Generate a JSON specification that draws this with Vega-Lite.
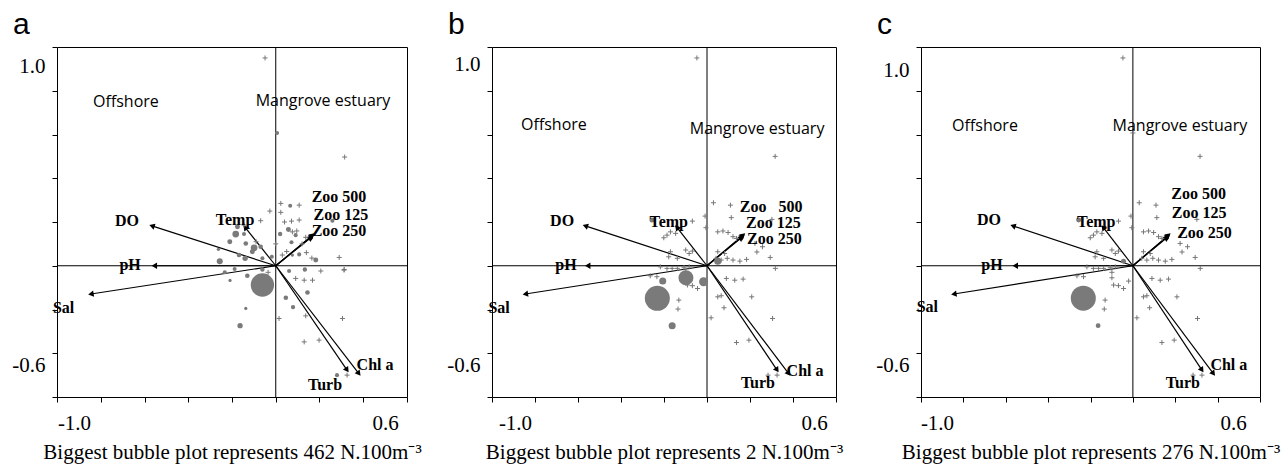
{
  "$schema": "https://vega.github.io/schema/vega-lite/v6.json",
  "background": "white",
  "padding": {"left": 11, "top": 9, "right": 2, "bottom": 2},
  "bounds": "flush",
  "spacing": 85,
  "resolve": {"scale": {"size": "independent"}},
  "datasets": {
    "arrows": [
      {"v": "DO", "x": -0.566, "y": 0.182},
      {"v": "pH", "x": -0.555, "y": 0.0},
      {"v": "Sal", "x": -0.845, "y": -0.129},
      {"v": "Temp", "x": -0.14, "y": 0.175},
      {"v": "Zoo 500", "x": 0.168, "y": 0.14},
      {"v": "Zoo 125", "x": 0.165, "y": 0.135},
      {"v": "Zoo 250", "x": 0.16, "y": 0.128},
      {"v": "Turb", "x": 0.326, "y": -0.477},
      {"v": "Chl a", "x": 0.38, "y": -0.493}
    ],
    "labels": [
      {"p": "a", "k": "var", "t": "DO", "x": -0.68, "y": 0.205},
      {"p": "a", "k": "var", "t": "Temp", "x": -0.186, "y": 0.209},
      {"p": "a", "k": "var", "t": "pH", "x": -0.666, "y": 0.003},
      {"p": "a", "k": "var", "t": "Sal", "x": -0.97, "y": -0.193},
      {"p": "a", "k": "var", "t": "Zoo 500", "x": 0.289, "y": 0.316},
      {"p": "a", "k": "var", "t": "Zoo 125", "x": 0.298, "y": 0.232},
      {"p": "a", "k": "var", "t": "Zoo 250", "x": 0.289, "y": 0.16},
      {"p": "a", "k": "var", "t": "Chl a", "x": 0.454, "y": -0.454},
      {"p": "a", "k": "var", "t": "Turb", "x": 0.225, "y": -0.545},
      {"p": "a", "k": "region", "t": "Offshore", "x": -0.685, "y": 0.749},
      {"p": "a", "k": "region", "t": "Mangrove estuary", "x": 0.216, "y": 0.753},
      {"p": "b", "k": "var", "t": "DO", "x": -0.674, "y": 0.205},
      {"p": "b", "k": "var", "t": "Temp", "x": -0.178, "y": 0.198},
      {"p": "b", "k": "var", "t": "pH", "x": -0.656, "y": 0.003},
      {"p": "b", "k": "var", "t": "Sal", "x": -0.967, "y": -0.193},
      {"p": "b", "k": "var", "t": "Zoo\u00a0\u00a0\u00a0500", "x": 0.298, "y": 0.27},
      {"p": "b", "k": "var", "t": "Zoo 125", "x": 0.309, "y": 0.197},
      {"p": "b", "k": "var", "t": "Zoo 250", "x": 0.313, "y": 0.122},
      {"p": "b", "k": "var", "t": "Chl a", "x": 0.456, "y": -0.481},
      {"p": "b", "k": "var", "t": "Turb", "x": 0.237, "y": -0.536},
      {"p": "b", "k": "region", "t": "Offshore", "x": -0.712, "y": 0.643},
      {"p": "b", "k": "region", "t": "Mangrove estuary", "x": 0.233, "y": 0.625},
      {"p": "c", "k": "var", "t": "DO", "x": -0.679, "y": 0.209},
      {"p": "c", "k": "var", "t": "Temp", "x": -0.173, "y": 0.201},
      {"p": "c", "k": "var", "t": "pH", "x": -0.665, "y": 0.003},
      {"p": "c", "k": "var", "t": "Sal", "x": -0.97, "y": -0.189},
      {"p": "c", "k": "var", "t": "Zoo 500", "x": 0.31, "y": 0.326},
      {"p": "c", "k": "var", "t": "Zoo 125", "x": 0.313, "y": 0.239},
      {"p": "c", "k": "var", "t": "Zoo 250", "x": 0.338, "y": 0.148},
      {"p": "c", "k": "var", "t": "Chl a", "x": 0.453, "y": -0.454},
      {"p": "c", "k": "var", "t": "Turb", "x": 0.236, "y": -0.536},
      {"p": "c", "k": "region", "t": "Offshore", "x": -0.698, "y": 0.639},
      {"p": "c", "k": "region", "t": "Mangrove estuary", "x": 0.222, "y": 0.639}
    ],
    "plus_a": [
      {"x": 0.023, "y": 0.285}, {"x": 0.107, "y": 0.277}, {"x": -0.027, "y": 0.25}, {"x": 0.023, "y": 0.244},
      {"x": 0.107, "y": 0.209}, {"x": 0.072, "y": 0.204}, {"x": -0.069, "y": 0.206}, {"x": 0.076, "y": 0.155},
      {"x": 0.096, "y": 0.159}, {"x": 0.137, "y": 0.13}, {"x": -0.145, "y": 0.186}, {"x": 0.29, "y": 0.038},
      {"x": 0.313, "y": -0.017}, {"x": 0.206, "y": -0.024}, {"x": 0.13, "y": -0.066}, {"x": 0.168, "y": -0.066},
      {"x": 0.091, "y": -0.058}, {"x": 0.015, "y": -0.241}, {"x": 0.305, "y": -0.241}, {"x": 0.13, "y": -0.348},
      {"x": 0.198, "y": -0.34}, {"x": 0.137, "y": -0.229}, {"x": 0.03, "y": 0.049}, {"x": 0.05, "y": 0.065},
      {"x": -0.049, "y": 0.95}, {"x": 0.315, "y": 0.497}, {"x": 0.326, "y": -0.5}, {"x": 0.312, "y": -0.02},
      {"x": -0.09, "y": 0.11}, {"x": 0.0, "y": 0.1}, {"x": 0.12, "y": 0.1}, {"x": 0.165, "y": 0.035},
      {"x": 0.04, "y": 0.2}, {"x": 0.14, "y": 0.06}, {"x": -0.035, "y": -0.03}
    ],
    "plus_bc": [
      {"x": 0.03, "y": 0.288}, {"x": 0.109, "y": 0.277}, {"x": 0.113, "y": 0.22}, {"x": -0.009, "y": 0.227},
      {"x": -0.005, "y": 0.174}, {"x": -0.068, "y": 0.204}, {"x": -0.186, "y": 0.14}, {"x": -0.17, "y": 0.155},
      {"x": -0.146, "y": 0.148}, {"x": -0.201, "y": 0.128}, {"x": 0.05, "y": 0.155}, {"x": 0.074, "y": 0.159},
      {"x": 0.098, "y": 0.152}, {"x": 0.121, "y": 0.133}, {"x": 0.137, "y": 0.125}, {"x": 0.302, "y": 0.212},
      {"x": 0.223, "y": 0.102}, {"x": 0.258, "y": 0.087}, {"x": 0.294, "y": 0.038}, {"x": 0.318, "y": -0.012},
      {"x": 0.184, "y": 0.029}, {"x": 0.153, "y": 0.021}, {"x": 0.121, "y": 0.026}, {"x": 0.094, "y": 0.034},
      {"x": 0.066, "y": 0.026}, {"x": 0.042, "y": 0.034}, {"x": 0.05, "y": 0.064}, {"x": 0.082, "y": 0.056},
      {"x": -0.17, "y": 0.064}, {"x": -0.178, "y": 0.041}, {"x": -0.138, "y": 0.034}, {"x": -0.099, "y": 0.072},
      {"x": -0.083, "y": 0.056}, {"x": -0.068, "y": 0.067}, {"x": -0.217, "y": -0.005}, {"x": -0.186, "y": -0.012},
      {"x": -0.162, "y": -0.012}, {"x": -0.138, "y": -0.012}, {"x": -0.107, "y": -0.009}, {"x": -0.083, "y": -0.005},
      {"x": -0.264, "y": -0.046}, {"x": -0.233, "y": -0.05}, {"x": -0.099, "y": -0.03}, {"x": -0.099, "y": -0.055},
      {"x": -0.091, "y": -0.088}, {"x": -0.068, "y": -0.091}, {"x": -0.044, "y": -0.104}, {"x": -0.02, "y": -0.07},
      {"x": 0.05, "y": -0.142}, {"x": 0.066, "y": -0.137}, {"x": 0.079, "y": -0.192}, {"x": 0.09, "y": -0.058},
      {"x": 0.129, "y": -0.066}, {"x": 0.168, "y": -0.061}, {"x": 0.208, "y": -0.142}, {"x": -0.131, "y": -0.157},
      {"x": -0.135, "y": -0.198}, {"x": 0.019, "y": -0.238}, {"x": 0.137, "y": -0.351}, {"x": 0.195, "y": -0.34},
      {"x": 0.305, "y": -0.241}, {"x": -0.047, "y": 0.95}, {"x": 0.317, "y": 0.5}, {"x": 0.284, "y": -0.5},
      {"x": 0.326, "y": -0.5}, {"x": 0.0, "y": 0.607}, {"x": 0.232, "y": 0.063}
    ],
    "bub": [
      {"p": "a", "x": 0.066, "y": 0.274, "n": 14}, {"p": "a", "x": 0.259, "y": 0.206, "n": 14},
      {"p": "a", "x": -0.175, "y": 0.178, "n": 21}, {"p": "a", "x": -0.183, "y": 0.145, "n": 38},
      {"p": "a", "x": -0.145, "y": 0.145, "n": 14}, {"p": "a", "x": -0.21, "y": 0.11, "n": 21},
      {"p": "a", "x": -0.137, "y": 0.102, "n": 18}, {"p": "a", "x": -0.099, "y": 0.082, "n": 38},
      {"p": "a", "x": -0.069, "y": 0.087, "n": 18}, {"p": "a", "x": -0.107, "y": 0.064, "n": 21},
      {"p": "a", "x": -0.168, "y": 0.049, "n": 18}, {"p": "a", "x": -0.14, "y": 0.034, "n": 24},
      {"p": "a", "x": -0.262, "y": 0.075, "n": 9}, {"p": "a", "x": -0.256, "y": 0.021, "n": 31},
      {"p": "a", "x": -0.061, "y": 0.034, "n": 14}, {"p": "a", "x": -0.018, "y": 0.041, "n": 14},
      {"p": "a", "x": 0.02, "y": 0.145, "n": 16}, {"p": "a", "x": 0.058, "y": 0.166, "n": 21},
      {"p": "a", "x": 0.072, "y": 0.107, "n": 14}, {"p": "a", "x": 0.091, "y": 0.14, "n": 14},
      {"p": "a", "x": 0.107, "y": 0.052, "n": 14}, {"p": "a", "x": 0.076, "y": 0.049, "n": 9},
      {"p": "a", "x": 0.183, "y": 0.026, "n": 21}, {"p": "a", "x": -0.233, "y": -0.03, "n": 14},
      {"p": "a", "x": -0.188, "y": -0.015, "n": 14}, {"p": "a", "x": -0.061, "y": -0.017, "n": 16},
      {"p": "a", "x": -0.13, "y": -0.046, "n": 18}, {"p": "a", "x": -0.209, "y": -0.067, "n": 9},
      {"p": "a", "x": -0.061, "y": -0.088, "n": 462}, {"p": "a", "x": 0.061, "y": -0.024, "n": 14},
      {"p": "a", "x": 0.133, "y": -0.017, "n": 16}, {"p": "a", "x": 0.145, "y": -0.122, "n": 18},
      {"p": "a", "x": 0.046, "y": -0.146, "n": 18}, {"p": "a", "x": 0.079, "y": -0.189, "n": 16},
      {"p": "a", "x": -0.137, "y": -0.195, "n": 9}, {"p": "a", "x": -0.163, "y": -0.274, "n": 24},
      {"p": "a", "x": 0.006, "y": 0.607, "n": 14}, {"p": "a", "x": 0.28, "y": -0.5, "n": 14},
      {"p": "b", "x": -0.256, "y": 0.209, "n": 0.08}, {"p": "b", "x": 0.05, "y": 0.021, "n": 0.16},
      {"p": "b", "x": -0.098, "y": -0.055, "n": 0.72}, {"p": "b", "x": -0.016, "y": -0.073, "n": 0.26},
      {"p": "b", "x": -0.206, "y": -0.07, "n": 0.16}, {"p": "b", "x": -0.231, "y": -0.149, "n": 2},
      {"p": "b", "x": -0.162, "y": -0.274, "n": 0.16},
      {"p": "c", "x": -0.256, "y": 0.209, "n": 11}, {"p": "c", "x": -0.044, "y": 0.021, "n": 11},
      {"p": "c", "x": -0.234, "y": -0.148, "n": 276}, {"p": "c", "x": -0.164, "y": -0.274, "n": 10}
    ]
  },
  "hconcat": [
    {
      "width": 350, "height": 350,
      "title": {"text": "a", "anchor": "start", "frame": "group", "dx": -44, "offset": -17, "baseline": "alphabetic", "fontSize": 30, "font": "Liberation Sans", "fontWeight": "normal", "color": "black"},
      "layer": [
        {"data": {"values": [{}]}, "mark": {"type": "rule", "color": "black", "strokeWidth": 1},
         "encoding": {"y": {"datum": 0, "type": "quantitative", "scale": {"domain": [-0.6, 1.0], "nice": false, "zero": false},
           "axis": {"title": null, "values": [-0.6, -0.4, -0.2, 0, 0.2, 0.4, 0.6, 0.8, 1], "labelExpr": "datum.value == 1 ? '1.0' : datum.value == -0.6 ? '-0.6' : ''", "labelOffset": {"condition": {"test": "datum.value == 1", "value": 19}, "value": -32}}}}},
        {"data": {"values": [{}]}, "mark": {"type": "rule", "color": "black", "strokeWidth": 1},
         "encoding": {"x": {"datum": 0, "type": "quantitative", "scale": {"domain": [-1.0, 0.6], "nice": false, "zero": false},
           "axis": {"title": "Biggest bubble plot represents 462 N.100m\u207b\u00b3", "values": [-1, -0.8, -0.6, -0.4, -0.2, 0, 0.2, 0.4, 0.6], "labelExpr": "datum.value == -1 ? '-1.0' : datum.value == 0.6 ? '0.6' : ''", "labelOffset": {"condition": {"test": "datum.value == -1", "value": 17}, "value": -22}}}}},
        {"data": {"name": "arrows"}, "mark": {"type": "rule", "color": "black", "strokeWidth": 1.2},
         "encoding": {"x": {"field": "x", "type": "quantitative"}, "y": {"field": "y", "type": "quantitative"}, "x2": {"datum": 0}, "y2": {"datum": 0}}},
        {"data": {"name": "arrows"}, "transform": [{"calculate": "atan2(datum.x, datum.y) * 180 / PI", "as": "ang"}],
         "mark": {"type": "point", "shape": "triangle-up", "filled": true, "color": "black", "size": 40, "opacity": 1},
         "encoding": {"x": {"field": "x", "type": "quantitative"}, "y": {"field": "y", "type": "quantitative"}, "angle": {"field": "ang", "type": "quantitative", "scale": null}}},
        {"data": {"name": "plus_a"}, "mark": {"type": "point", "shape": "M-1,0L1,0M0,-1L0,1", "filled": false, "color": "#777777", "strokeWidth": 1, "size": 25, "opacity": 1},
         "encoding": {"x": {"field": "x", "type": "quantitative"}, "y": {"field": "y", "type": "quantitative"}}},
        {"data": {"name": "bub"}, "transform": [{"filter": "datum.p == 'a'"}], "mark": {"type": "circle", "color": "#7a7a7a", "opacity": 1},
         "encoding": {"x": {"field": "x", "type": "quantitative"}, "y": {"field": "y", "type": "quantitative"},
           "size": {"field": "n", "type": "quantitative", "scale": {"domain": [0, 462], "range": [0, 544], "zero": true}, "legend": null}}},
        {"data": {"name": "labels"}, "transform": [{"filter": "datum.p == 'a' && datum.k == 'var'"}],
         "mark": {"type": "text", "font": "Liberation Serif", "fontWeight": "bold", "fontSize": 16, "color": "black", "align": "center", "baseline": "middle"},
         "encoding": {"x": {"field": "x", "type": "quantitative"}, "y": {"field": "y", "type": "quantitative"}, "text": {"field": "t"}}},
        {"data": {"name": "labels"}, "transform": [{"filter": "datum.p == 'a' && datum.k == 'region'"}],
         "mark": {"type": "text", "font": "Open Sans", "fontSize": 16, "color": "black", "align": "center", "baseline": "middle"},
         "encoding": {"x": {"field": "x", "type": "quantitative"}, "y": {"field": "y", "type": "quantitative"}, "text": {"field": "t"}}}
      ]
    },
    {
      "width": 344, "height": 350,
      "title": {"text": "b", "anchor": "start", "frame": "group", "dx": -44, "offset": -17, "baseline": "alphabetic", "fontSize": 30, "font": "Liberation Sans", "fontWeight": "normal", "color": "black"},
      "layer": [
        {"data": {"values": [{}]}, "mark": {"type": "rule", "color": "black", "strokeWidth": 1},
         "encoding": {"y": {"datum": 0, "type": "quantitative", "scale": {"domain": [-0.6, 1.0], "nice": false, "zero": false},
           "axis": {"title": null, "values": [-0.6, -0.4, -0.2, 0, 0.2, 0.4, 0.6, 0.8, 1], "labelExpr": "datum.value == 1 ? '1.0' : datum.value == -0.6 ? '-0.6' : ''", "labelOffset": {"condition": {"test": "datum.value == 1", "value": 17}, "value": -32}}}}},
        {"data": {"values": [{}]}, "mark": {"type": "rule", "color": "black", "strokeWidth": 1},
         "encoding": {"x": {"datum": 0, "type": "quantitative", "scale": {"domain": [-1.0, 0.6], "nice": false, "zero": false},
           "axis": {"title": "Biggest bubble plot represents 2 N.100m\u207b\u00b3", "values": [-1, -0.8, -0.6, -0.4, -0.2, 0, 0.2, 0.4, 0.6], "labelExpr": "datum.value == -1 ? '-1.0' : datum.value == 0.6 ? '0.6' : ''", "labelOffset": {"condition": {"test": "datum.value == -1", "value": 23}, "value": -22}}}}},
        {"data": {"name": "arrows"}, "mark": {"type": "rule", "color": "black", "strokeWidth": 1.2},
         "encoding": {"x": {"field": "x", "type": "quantitative"}, "y": {"field": "y", "type": "quantitative"}, "x2": {"datum": 0}, "y2": {"datum": 0}}},
        {"data": {"name": "arrows"}, "transform": [{"calculate": "atan2(datum.x, datum.y) * 180 / PI", "as": "ang"}],
         "mark": {"type": "point", "shape": "triangle-up", "filled": true, "color": "black", "size": 40, "opacity": 1},
         "encoding": {"x": {"field": "x", "type": "quantitative"}, "y": {"field": "y", "type": "quantitative"}, "angle": {"field": "ang", "type": "quantitative", "scale": null}}},
        {"data": {"name": "plus_bc"}, "mark": {"type": "point", "shape": "M-1,0L1,0M0,-1L0,1", "filled": false, "color": "#777777", "strokeWidth": 1, "size": 25, "opacity": 1},
         "encoding": {"x": {"field": "x", "type": "quantitative"}, "y": {"field": "y", "type": "quantitative"}}},
        {"data": {"name": "bub"}, "transform": [{"filter": "datum.p == 'b'"}], "mark": {"type": "circle", "color": "#7a7a7a", "opacity": 1},
         "encoding": {"x": {"field": "x", "type": "quantitative"}, "y": {"field": "y", "type": "quantitative"},
           "size": {"field": "n", "type": "quantitative", "scale": {"domain": [0, 2], "range": [0, 625], "zero": true}, "legend": null}}},
        {"data": {"name": "labels"}, "transform": [{"filter": "datum.p == 'b' && datum.k == 'var'"}],
         "mark": {"type": "text", "font": "Liberation Serif", "fontWeight": "bold", "fontSize": 16, "color": "black", "align": "center", "baseline": "middle"},
         "encoding": {"x": {"field": "x", "type": "quantitative"}, "y": {"field": "y", "type": "quantitative"}, "text": {"field": "t"}}},
        {"data": {"name": "labels"}, "transform": [{"filter": "datum.p == 'b' && datum.k == 'region'"}],
         "mark": {"type": "text", "font": "Open Sans", "fontSize": 16, "color": "black", "align": "center", "baseline": "middle"},
         "encoding": {"x": {"field": "x", "type": "quantitative"}, "y": {"field": "y", "type": "quantitative"}, "text": {"field": "t"}}}
      ]
    },
    {
      "width": 339, "height": 350,
      "title": {"text": "c", "anchor": "start", "frame": "group", "dx": -44, "offset": -17, "baseline": "alphabetic", "fontSize": 30, "font": "Liberation Sans", "fontWeight": "normal", "color": "black"},
      "layer": [
        {"data": {"values": [{}]}, "mark": {"type": "rule", "color": "black", "strokeWidth": 1},
         "encoding": {"y": {"datum": 0, "type": "quantitative", "scale": {"domain": [-0.6, 1.0], "nice": false, "zero": false},
           "axis": {"title": null, "values": [-0.6, -0.4, -0.2, 0, 0.2, 0.4, 0.6, 0.8, 1], "labelExpr": "datum.value == 1 ? '1.0' : datum.value == -0.6 ? '-0.6' : ''", "labelOffset": {"condition": {"test": "datum.value == 1", "value": 23}, "value": -32}}}}},
        {"data": {"values": [{}]}, "mark": {"type": "rule", "color": "black", "strokeWidth": 1},
         "encoding": {"x": {"datum": 0, "type": "quantitative", "scale": {"domain": [-1.0, 0.6], "nice": false, "zero": false},
           "axis": {"title": "Biggest bubble plot represents 276 N.100m\u207b\u00b3", "values": [-1, -0.8, -0.6, -0.4, -0.2, 0, 0.2, 0.4, 0.6], "labelExpr": "datum.value == -1 ? '-1.0' : datum.value == 0.6 ? '0.6' : ''", "labelOffset": {"condition": {"test": "datum.value == -1", "value": 16}, "value": -27}}}}},
        {"data": {"name": "arrows"}, "mark": {"type": "rule", "color": "black", "strokeWidth": 1.2},
         "encoding": {"x": {"field": "x", "type": "quantitative"}, "y": {"field": "y", "type": "quantitative"}, "x2": {"datum": 0}, "y2": {"datum": 0}}},
        {"data": {"name": "arrows"}, "transform": [{"calculate": "atan2(datum.x, datum.y) * 180 / PI", "as": "ang"}],
         "mark": {"type": "point", "shape": "triangle-up", "filled": true, "color": "black", "size": 40, "opacity": 1},
         "encoding": {"x": {"field": "x", "type": "quantitative"}, "y": {"field": "y", "type": "quantitative"}, "angle": {"field": "ang", "type": "quantitative", "scale": null}}},
        {"data": {"name": "plus_bc"}, "mark": {"type": "point", "shape": "M-1,0L1,0M0,-1L0,1", "filled": false, "color": "#777777", "strokeWidth": 1, "size": 25, "opacity": 1},
         "encoding": {"x": {"field": "x", "type": "quantitative"}, "y": {"field": "y", "type": "quantitative"}}},
        {"data": {"name": "bub"}, "transform": [{"filter": "datum.p == 'c'"}], "mark": {"type": "circle", "color": "#7a7a7a", "opacity": 1},
         "encoding": {"x": {"field": "x", "type": "quantitative"}, "y": {"field": "y", "type": "quantitative"},
           "size": {"field": "n", "type": "quantitative", "scale": {"domain": [0, 276], "range": [0, 625], "zero": true}, "legend": null}}},
        {"data": {"name": "labels"}, "transform": [{"filter": "datum.p == 'c' && datum.k == 'var'"}],
         "mark": {"type": "text", "font": "Liberation Serif", "fontWeight": "bold", "fontSize": 16, "color": "black", "align": "center", "baseline": "middle"},
         "encoding": {"x": {"field": "x", "type": "quantitative"}, "y": {"field": "y", "type": "quantitative"}, "text": {"field": "t"}}},
        {"data": {"name": "labels"}, "transform": [{"filter": "datum.p == 'c' && datum.k == 'region'"}],
         "mark": {"type": "text", "font": "Open Sans", "fontSize": 16, "color": "black", "align": "center", "baseline": "middle"},
         "encoding": {"x": {"field": "x", "type": "quantitative"}, "y": {"field": "y", "type": "quantitative"}, "text": {"field": "t"}}}
      ]
    }
  ],
  "config": {
    "view": {"stroke": "black", "strokeWidth": 1},
    "axis": {"grid": false, "domain": false, "ticks": true, "tickColor": "black", "tickSize": 5, "tickWidth": 1,
      "labelColor": "black", "labelFont": "Liberation Serif", "labelFontSize": 21, "labelFlush": false, "labelOverlap": false,
      "titleFont": "Liberation Serif", "titleFontSize": 21, "titleFontWeight": "normal", "titleColor": "black"},
    "axisX": {"labelPadding": 10, "labelAlign": "center", "titlePadding": 8},
    "axisY": {"labelPadding": 7}
  }
}
